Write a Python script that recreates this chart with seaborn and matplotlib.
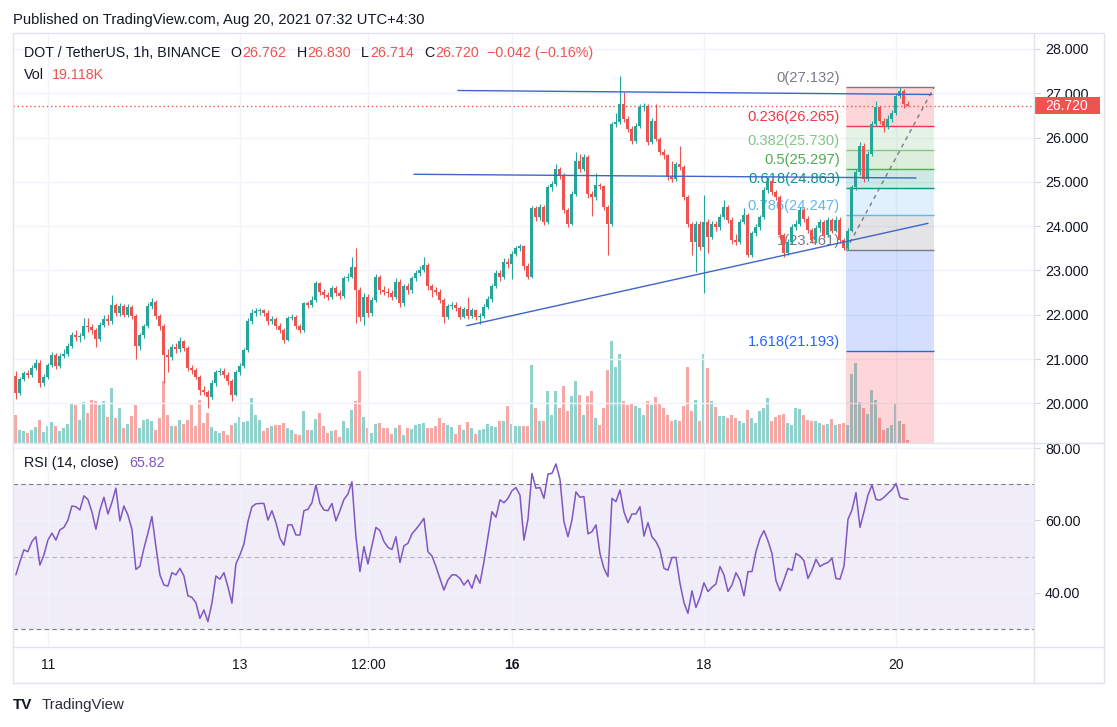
import numpy as np
import pandas as pd
import matplotlib
matplotlib.use("Agg")
import matplotlib.pyplot as plt
from matplotlib.lines import Line2D
from matplotlib.patches import Rectangle
from matplotlib.transforms import blended_transform_factory
import seaborn as sns

# DOT / TetherUS 1h candles (Binance).
# open of every bar = close of the bar before it
first_open = 20.61
closes = [
    20.24, 20.55, 20.68, 20.65, 20.80, 20.92, 20.46, 20.60, 20.87, 21.10,
    20.85, 21.08, 21.12, 21.30, 21.55, 21.50, 21.52, 21.75, 21.72, 21.65,
    21.45, 21.78, 21.90, 21.85, 22.22, 22.05, 22.20, 22.00, 22.18, 21.98,
    21.30, 21.55, 21.75, 22.20, 22.30, 21.97, 21.74, 21.10, 21.05, 21.28,
    21.22, 21.40, 21.25, 20.80, 20.75, 20.60, 20.30, 20.25, 20.15, 20.45,
    20.70, 20.72, 20.65, 20.50, 20.20, 20.70, 20.85, 21.20, 21.85, 22.05,
    22.08, 22.10, 22.05, 21.85, 21.90, 21.75, 21.66, 21.44, 21.93, 21.96,
    21.74, 21.66, 22.26, 22.22, 22.34, 22.71, 22.52, 22.45, 22.41, 22.60,
    22.50, 22.42, 22.82, 22.86, 23.09, 22.56, 21.96, 22.41, 22.04, 22.34,
    22.86, 22.56, 22.52, 22.49, 22.41, 22.75, 22.26, 22.64, 22.56, 22.82,
    22.94, 23.01, 23.12, 22.64, 22.56, 22.52, 22.34, 21.96, 22.19, 22.22,
    22.15, 21.96, 22.12, 21.98, 22.10, 21.95, 21.97, 22.18, 22.35, 22.65,
    22.95, 22.85, 23.20, 23.15, 23.38, 23.50, 23.55, 23.10, 22.86, 24.40,
    24.20, 24.43, 24.10, 24.88, 24.95, 25.30, 25.15, 24.36, 24.06, 24.73,
    25.48, 25.30, 25.56, 24.73, 24.66, 24.92, 24.90, 24.43, 24.06, 26.31,
    26.35, 26.76, 26.42, 26.20, 25.93, 26.27, 26.68, 26.72, 25.90, 26.38,
    25.97, 25.67, 25.60, 25.11, 25.07, 25.41, 25.33, 24.66, 24.06, 23.65,
    24.06, 23.54, 24.10, 23.76, 24.05, 23.98, 24.20, 24.43, 24.15, 23.69,
    23.65, 24.10, 24.25, 23.35, 23.84, 23.98, 24.20, 24.81, 25.03, 24.77,
    24.66, 23.80, 23.39, 23.65, 23.98, 24.06, 24.36, 24.17, 23.91, 23.69,
    23.95, 24.10, 23.80, 24.13, 23.90, 24.15, 23.69, 23.50, 23.90, 24.88,
    25.22, 25.82, 25.07, 25.63, 26.31, 26.68, 26.38, 26.25, 26.42, 26.55,
    26.95, 27.05, 26.762, 26.720,
]
highs = [
    20.72, 20.60, 20.74, 20.75, 20.86, 21.00, 20.97, 20.66, 20.92, 21.16,
    21.14, 21.14, 21.22, 21.36, 21.62, 21.66, 21.60, 21.92, 21.92, 21.80,
    21.70, 21.84, 22.00, 22.02, 22.45, 22.26, 22.26, 22.24, 22.24, 22.22,
    22.02, 21.60, 21.80, 22.26, 22.38, 22.34, 22.02, 21.80, 21.22, 21.34,
    21.36, 21.50, 21.44, 21.30, 20.86, 20.80, 20.64, 20.40, 20.30, 20.52,
    20.76, 20.80, 20.80, 20.70, 20.54, 20.76, 20.92, 21.26, 21.92, 22.12,
    22.16, 22.16, 22.14, 22.10, 21.98, 21.96, 21.82, 21.70, 21.98, 22.02,
    22.00, 21.80, 22.30, 22.32, 22.42, 22.76, 22.74, 22.58, 22.52, 22.66,
    22.64, 22.56, 22.88, 22.94, 23.31, 23.50, 22.62, 22.50, 22.46, 22.40,
    22.92, 22.90, 22.66, 22.60, 22.56, 22.82, 22.80, 22.70, 22.72, 22.88,
    23.00, 23.10, 23.31, 23.16, 22.70, 22.62, 22.58, 22.38, 22.24, 22.28,
    22.30, 22.20, 22.18, 22.40, 22.16, 22.14, 22.04, 22.24, 22.42, 22.70,
    23.00, 23.02, 23.28, 23.28, 23.44, 23.56, 23.60, 23.58, 23.16, 24.46,
    24.46, 24.50, 24.48, 24.94, 25.02, 25.41, 25.34, 25.20, 24.40, 24.80,
    25.67, 25.63, 25.62, 25.60, 24.80, 25.20, 24.98, 24.94, 24.48, 26.36,
    26.56, 27.39, 27.02, 26.48, 26.26, 26.32, 26.76, 26.78, 26.76, 26.44,
    26.76, 26.02, 25.74, 25.64, 25.48, 25.46, 25.82, 25.38, 24.70, 24.10,
    24.12, 24.12, 24.70, 24.16, 24.12, 24.12, 24.28, 24.58, 24.48, 24.20,
    23.82, 24.16, 24.40, 24.30, 23.90, 24.04, 24.26, 24.88, 25.10, 25.07,
    24.82, 24.70, 23.84, 23.70, 24.04, 24.14, 24.44, 24.40, 24.22, 23.96,
    24.02, 24.16, 24.14, 24.20, 24.18, 24.22, 24.20, 23.74, 23.96, 24.94,
    25.30, 25.90, 25.88, 25.70, 26.38, 26.83, 26.72, 26.44, 26.50, 26.62,
    27.00, 27.132, 27.09, 26.830,
]
lows = [
    20.10, 20.20, 20.50, 20.58, 20.60, 20.76, 20.38, 20.40, 20.55, 20.82,
    20.78, 20.80, 21.02, 21.06, 21.26, 21.40, 21.38, 21.46, 21.62, 21.56,
    21.28, 21.40, 21.72, 21.78, 21.80, 21.98, 21.98, 21.94, 21.96, 21.90,
    21.00, 21.20, 21.48, 21.70, 22.14, 21.90, 21.66, 20.46, 20.70, 20.98,
    21.14, 21.16, 21.18, 20.72, 20.66, 20.54, 20.20, 20.18, 19.90, 20.10,
    20.40, 20.64, 20.58, 20.42, 20.05, 20.16, 20.64, 20.80, 21.16, 21.80,
    21.98, 22.00, 21.98, 21.78, 21.80, 21.68, 21.58, 21.36, 21.40, 21.88,
    21.68, 21.60, 21.62, 22.16, 22.18, 22.30, 22.44, 22.38, 22.34, 22.36,
    22.42, 22.36, 22.38, 22.76, 22.82, 21.81, 21.85, 21.78, 21.95, 21.98,
    22.28, 22.48, 22.44, 22.40, 22.34, 22.36, 22.18, 22.20, 22.48, 22.50,
    22.76, 22.88, 22.96, 22.56, 22.40, 22.44, 22.26, 21.81, 21.90, 22.12,
    22.08, 21.90, 21.92, 21.90, 21.92, 21.88, 21.80, 21.92, 22.12, 22.30,
    22.60, 22.76, 22.80, 23.06, 22.80, 23.32, 23.44, 23.02, 22.80, 22.82,
    24.12, 24.14, 24.02, 24.04, 24.80, 24.90, 25.06, 24.30, 23.98, 24.02,
    24.68, 25.22, 25.24, 24.64, 24.24, 24.60, 24.84, 24.36, 23.35, 24.00,
    26.24, 26.30, 26.36, 26.12, 25.86, 25.88, 26.22, 26.60, 25.84, 25.86,
    25.92, 25.60, 25.52, 25.04, 25.00, 25.02, 25.26, 24.58, 23.98, 23.35,
    22.97, 23.46, 22.49, 23.40, 23.70, 23.90, 23.92, 24.16, 24.08, 23.60,
    23.58, 23.60, 24.04, 23.30, 23.30, 23.78, 23.92, 24.16, 24.76, 24.70,
    24.58, 23.72, 23.31, 23.34, 23.60, 23.92, 24.00, 24.10, 23.84, 23.62,
    23.64, 23.88, 23.74, 23.76, 23.84, 23.86, 23.62, 23.461, 23.46, 23.86,
    24.82, 25.16, 25.00, 25.02, 25.58, 26.26, 26.30, 26.12, 26.20, 26.36,
    26.50, 26.90, 26.66, 26.714,
]
# volume in thousands of DOT
volumes_k = [
    168, 78, 72, 60, 78, 96, 138, 66, 102, 126,
    102, 72, 90, 114, 240, 228, 138, 246, 180, 258,
    252, 228, 252, 156, 330, 150, 210, 90, 114, 162,
    228, 90, 138, 144, 132, 78, 150, 372, 168, 102,
    102, 138, 114, 138, 228, 102, 258, 120, 180, 96,
    72, 60, 72, 48, 108, 120, 156, 126, 132, 270,
    168, 138, 72, 90, 102, 108, 108, 120, 90, 78,
    54, 48, 192, 78, 78, 144, 180, 102, 60, 72,
    78, 36, 132, 90, 198, 252, 432, 156, 90, 60,
    114, 120, 90, 90, 54, 90, 108, 48, 90, 84,
    108, 114, 120, 90, 90, 102, 150, 120, 108, 96,
    54, 108, 78, 126, 90, 54, 78, 84, 114, 102,
    96, 132, 132, 222, 114, 102, 102, 102, 102, 468,
    210, 132, 132, 312, 168, 312, 210, 342, 192, 282,
    372, 288, 168, 282, 312, 150, 108, 210, 438, 612,
    456, 534, 252, 228, 240, 222, 210, 168, 252, 228,
    276, 240, 210, 168, 132, 138, 132, 222, 456, 192,
    258, 132, 534, 450, 252, 216, 162, 162, 150, 168,
    150, 132, 120, 198, 150, 120, 192, 210, 270, 132,
    156, 168, 174, 120, 108, 210, 204, 168, 138, 132,
    132, 120, 108, 114, 144, 108, 114, 120, 108, 414,
    480, 246, 210, 174, 318, 258, 150, 78, 90, 108,
    240, 132, 114, 19.118,
]
rsi_values = [
    45.0, 48.6, 51.9, 51.4, 54.2, 55.5, 47.7, 50.5, 54.6, 56.5,
    54.6, 57.4, 58.1, 60.1, 64.0, 63.8, 62.9, 66.8, 65.8, 62.4,
    57.6, 62.9, 66.4, 61.8, 65.0, 68.9, 59.9, 64.0, 61.5, 57.6,
    46.5, 47.4, 52.3, 56.5, 61.1, 52.8, 45.0, 42.2, 41.9, 45.6,
    45.0, 46.8, 44.7, 39.2, 38.8, 37.3, 33.0, 35.3, 32.1, 37.2,
    44.7, 43.8, 45.6, 41.7, 37.2, 48.0, 50.5, 53.5, 59.7, 63.8,
    64.6, 64.7, 64.7, 60.1, 62.7, 59.4, 55.1, 53.2, 58.8, 58.8,
    56.0, 56.0, 62.7, 63.1, 64.9, 69.8, 64.7, 62.9, 62.7, 64.7,
    59.9, 62.7, 65.8, 67.3, 70.7, 55.5, 45.9, 52.8, 48.0, 53.0,
    58.1, 57.2, 54.2, 52.6, 52.0, 55.5, 48.4, 53.0, 53.7, 56.3,
    57.6, 59.0, 60.6, 51.4, 50.2, 47.3, 44.0, 40.8, 43.6, 45.0,
    45.0, 44.0, 42.2, 43.6, 41.3, 45.0, 42.7, 48.6, 55.5, 62.4,
    60.9, 65.7, 64.9, 66.1, 68.2, 69.1, 67.0, 54.6, 60.3, 73.0,
    68.9, 69.1, 66.1, 72.8, 73.0, 75.6, 71.4, 59.7, 55.5, 60.1,
    67.9, 66.4, 66.6, 56.3, 56.9, 58.8, 50.9, 46.8, 44.5, 66.1,
    65.2, 68.4, 62.4, 59.4, 61.8, 61.8, 63.8, 55.7, 59.4, 55.5,
    54.2, 51.9, 46.8, 46.3, 49.8, 49.8, 42.7, 37.3, 34.4, 40.6,
    36.0, 38.8, 42.8, 40.4, 41.6, 42.5, 47.3, 45.0, 40.4, 42.2,
    45.6, 43.6, 39.2, 45.9, 45.9, 51.4, 55.1, 57.2, 54.4, 50.9,
    43.4, 40.6, 43.6, 46.8, 46.2, 50.9, 50.2, 48.9, 44.0, 46.3,
    49.3, 47.3, 48.0, 48.4, 49.6, 44.0, 43.8, 47.4, 60.3, 62.9,
    67.7, 58.1, 62.4, 67.0, 69.8, 65.8, 65.6, 66.4, 67.5, 68.5,
    70.2, 66.4, 66.0, 65.82,
]

day_ticks = [8, 56, 88, 124, 172, 220]
day_labels = ["11", "13", "12:00", "16", "18", "20"]
price_ticks = [20, 21, 22, 23, 24, 25, 26, 27, 28]
rsi_ticks = [40, 60, 80]

last_price = 26.720
ohlc_text = ["26.762", "26.830", "26.714", "26.720"]
change_text = "\u22120.042 (\u22120.16%)"
last_volume = "19.118K"
last_rsi = "65.82"

# fib retracement on the last swing (anchors in bar index / price)
fib_anchor_x = [207.5, 229.5]
fib_anchor_y = [23.461, 27.132]
fib_names = ["0", "0.236", "0.382", "0.5", "0.618", "0.786", "1", "1.618"]
fib_prices = [27.132, 26.265, 25.730, 25.297, 24.863, 24.247, 23.461, 21.193]
fib_2618 = 17.521
fib_colors = ["#787b86", "#f23645", "#81c784", "#4caf50", "#089981",
              "#64b5f6", "#787b86", "#2962ff"]

# hand drawn lines: x0, y0, x1, y1
trend_lines = [
    (110.5, 27.063, 229.0, 26.973),
    (99.5, 25.172, 225.0, 25.088),
    (112.7, 21.754, 228.0, 24.065),
]

UP, DOWN = "#26a69a", "#ef5350"
TXT = "#131722"
GRID = "#f0f3fa"
BORDER = "#e0e3eb"

df = pd.DataFrame({"close": closes, "high": highs, "low": lows,
                   "volume": volumes_k, "rsi": rsi_values})
df["open"] = [first_open] + closes[:-1]
df["bar"] = np.arange(len(df))
up = df["close"] >= df["open"]
candle_colors = np.where(up, UP, DOWN)
vol_colors = [(0.149, 0.651, 0.604, 0.5) if u else (0.937, 0.325, 0.314, 0.5) for u in up]

sns.set_theme(style="white")
plt.rcParams["font.family"] = ["Liberation Sans", "DejaVu Sans"]

W, H = 1117, 727
fig = plt.figure(figsize=(W / 100, H / 100), dpi=100)
fig.patch.set_facecolor("white")


def frame(x0, y0, x1, y1):
    return [x0 / W, 1 - y1 / H, (x1 - x0) / W, (y1 - y0) / H]


ax_vol = fig.add_axes(frame(12.7, 33, 1034, 443), label="volume")
ax = fig.add_axes(frame(12.7, 33, 1034, 443), sharex=ax_vol, label="price")
ax.set_facecolor("none")
ax_rsi = fig.add_axes(frame(12.7, 443, 1034, 647), sharex=ax_vol, label="rsi")

# volume
ax_vol.bar(df["bar"], df["volume"], width=0.75, color=vol_colors, linewidth=0)
ax_vol.set_ylim(0, 2460)
ax_vol.set_axis_off()

# candles
body_lo = np.minimum(df["open"], df["close"])
body_h = np.maximum((df["close"] - df["open"]).abs(), 0.02)
ax.vlines(df["bar"], df["low"], df["high"], colors=candle_colors, linewidth=0.8, zorder=3)
ax.bar(df["bar"], body_h, bottom=body_lo, width=0.75, color=candle_colors,
       linewidth=0, zorder=4)

# fib retracement
fx0, fx1 = fib_anchor_x
for k, price in enumerate(fib_prices):
    col = fib_colors[k]
    ax.hlines(price, fx0, fx1, color=col, linewidth=1, zorder=2)
    ax.annotate(f"{fib_names[k]}({price:.3f})", xy=(fx0, price), xytext=(-6, 2),
                textcoords="offset pixels", ha="right", va="bottom",
                color=col, fontsize=10.6, zorder=2)
    if k:
        ax.fill_between([fx0, fx1], fib_prices[k - 1], price, color=col,
                        alpha=0.2, linewidth=0, zorder=1)
ax.fill_between([fx0, fx1], fib_prices[-1], fib_2618, color="#f23645",
                alpha=0.2, linewidth=0, zorder=1)
ax.plot(fib_anchor_x, fib_anchor_y, color="#787b86", linewidth=1, dashes=(3, 3), zorder=6)

for x0, y0, x1, y1 in trend_lines:
    ax.plot([x0, x1], [y0, y1], color="#3d66c8", linewidth=1, zorder=6)

# last price line and badge
ax.axhline(last_price, color=DOWN, linewidth=1, dashes=(1, 2), zorder=2)
bt = blended_transform_factory(ax.transAxes, ax.transData)
ax.add_patch(Rectangle((1.0, last_price - 0.19), 66 / 1021.3, 0.38, transform=bt,
                       facecolor=DOWN, edgecolor="none", clip_on=False, zorder=10))
ax.text(1.0 + 33 / 1021.3, last_price, f"{last_price:.3f}", transform=bt,
        ha="center", va="center", color="white", fontsize=10, zorder=11, clip_on=False)

# rsi pane
ax_rsi.axhspan(30, 70, color="#7e57c2", alpha=0.1, linewidth=0, zorder=0)
for lvl, a in [(70, 1.0), (50, 0.5), (30, 1.0)]:
    ax_rsi.axhline(lvl, color="#787b86", linewidth=0.8, dashes=(4, 3), alpha=a, zorder=1)
sns.lineplot(data=df, x="bar", y="rsi", ax=ax_rsi, color="#7e57c2", linewidth=1.1, zorder=3)
ax_rsi.set_xlabel("")
ax_rsi.set_ylabel("")

# axes cosmetics
for a in (ax, ax_rsi):
    for s in a.spines.values():
        s.set_visible(False)
    a.grid(True, color=GRID, linewidth=1)
    a.set_axisbelow(True)
    a.yaxis.set_ticks_position("right")
    a.tick_params(axis="y", length=4, width=0.8, color="#d1d4dc", pad=4,
                  labelsize=10.3, labelcolor=TXT, right=True, left=False,
                  labelright=True, labelleft=False)

ax.set_xlim(-0.8, 254.5)
ax.set_ylim(19.106, 28.361)
ax.set_yticks(price_ticks)
ax.set_yticklabels([f"{p:.3f}" for p in price_ticks])
ax.tick_params(axis="x", bottom=False, labelbottom=False)

ax_rsi.set_ylim(25.10, 81.38)
ax_rsi.set_yticks(rsi_ticks)
ax_rsi.set_yticklabels([f"{r:.2f}" for r in rsi_ticks])
ax_rsi.set_xticks(day_ticks)
ax_rsi.set_xticklabels(day_labels)
ax_rsi.tick_params(axis="x", length=0, pad=8, labelsize=10, labelcolor=TXT)
for lab in ax_rsi.get_xticklabels():
    if lab.get_text() == "16":
        lab.set_fontweight("bold")

# chart frame and pane separators
fig.add_artist(Rectangle((12.7 / W, 1 - 683 / H), (1104 - 12.7) / W, (683 - 33) / H,
                         transform=fig.transFigure, fill=False, edgecolor=BORDER, linewidth=1))
for yy in (443, 647):
    fig.add_artist(Line2D([12.7 / W, 1104 / W], [1 - yy / H, 1 - yy / H],
                          transform=fig.transFigure, color=BORDER, linewidth=1))
fig.add_artist(Line2D([1034 / W, 1034 / W], [1 - 33 / H, 1 - 683 / H],
                      transform=fig.transFigure, color=BORDER, linewidth=1))

# texts
renderer = fig.canvas.get_renderer()


def text_runs(x_px, y_px, runs, size=10.3):
    x = x_px
    for s, color, gap in runs:
        t = fig.text(x / W, 1 - y_px / H, s, color=color, fontsize=size,
                     ha="left", va="center")
        x += t.get_window_extent(renderer).width + gap


fig.text(13.3 / W, 1 - 20 / H, "Published on TradingView.com, Aug 20, 2021 07:32 UTC+4:30",
         fontsize=10.6, color=TXT, ha="left", va="center")
text_runs(24, 53, [("DOT / TetherUS, 1h, BINANCE", TXT, 10),
                   ("O", TXT, 1), (ohlc_text[0], DOWN, 10),
                   ("H", TXT, 1), (ohlc_text[1], DOWN, 10),
                   ("L", TXT, 1), (ohlc_text[2], DOWN, 10),
                   ("C", TXT, 1), (ohlc_text[3], DOWN, 8),
                   (change_text, DOWN, 0)])
text_runs(24, 75, [("Vol", TXT, 8), (last_volume, DOWN, 0)])
text_runs(24, 463, [("RSI (14, close)", TXT, 10), (last_rsi, "#7e57c2", 0)])

fig.text(13 / W, 1 - 705 / H, "TV", fontsize=11, fontweight="heavy", color=TXT,
         ha="left", va="center")
fig.text(42 / W, 1 - 705 / H, "TradingView", fontsize=10.8, color="#2a2e39",
         ha="left", va="center")

fig.savefig("out.png", dpi=100, facecolor="white")
